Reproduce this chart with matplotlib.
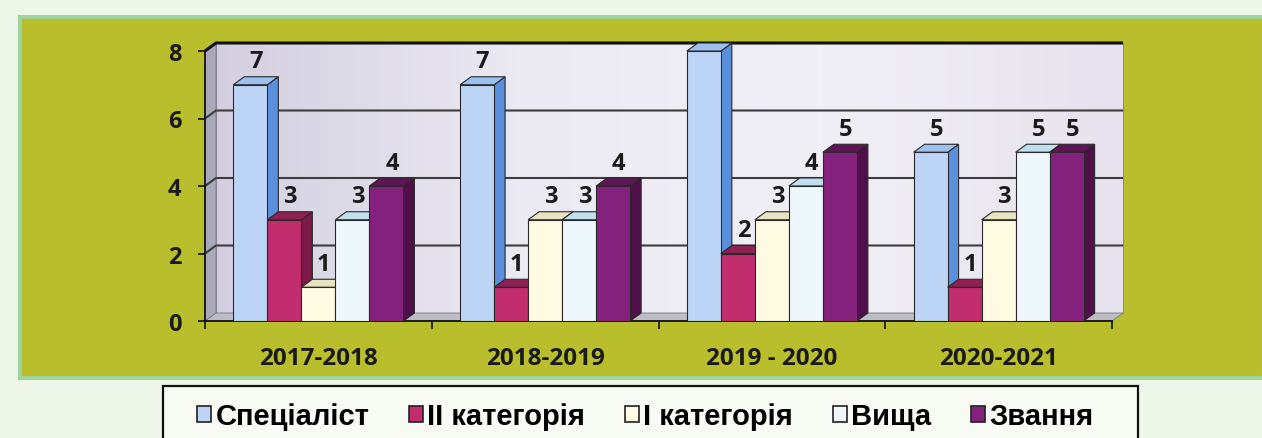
import matplotlib
matplotlib.use('Agg')
import matplotlib.pyplot as plt
import matplotlib.patches as patches
from matplotlib.colors import LinearSegmentedColormap
import numpy as np

# data
periods = ['2017-2018', '2018-2019', '2019 - 2020', '2020-2021']
series_names = ['Спеціаліст', 'II категорія', 'I категорія', 'Вища', 'Звання']
specialist = [7, 7, 8, 5]
category_2 = [3, 1, 2, 1]
category_1 = [1, 3, 3, 3]
vyshcha = [3, 3, 4, 5]
zvannia = [4, 4, 5, 5]
y_ticks = [0, 2, 4, 6, 8]

series = [specialist, category_2, category_1, vyshcha, zvannia]
# (front, side, top)
COLORS = [
    ('#bcd5f7', '#5b8fdb', '#9cc0f0'),
    ('#c22d6e', '#7d1a47', '#8f2052'),
    ('#fffbe3', '#dcd6ae', '#e8e3c0'),
    ('#eef7fc', '#c2dfec', '#bfe0ec'),
    ('#84217c', '#4f1049', '#5e1457'),
]
OLIVE = '#b9be2d'
BG = '#eef7ea'
TICK_FONT = dict(family='Open Sans', weight='bold', size=17, color='#1a1a1a')
CAT_FONT = dict(family='Open Sans', weight='bold', size=17.5, color='#1a1a1a')
VALUE_FONT = dict(family='Open Sans', weight='bold', size=17, color='#1a1a1a')

W, H = 1262, 439


def fx(x):
    return x / W


def fy(y):
    return 1 - y / H


fig = plt.figure(figsize=(W / 100, H / 100), dpi=100)
fig.patch.set_facecolor(BG)

# olive panel and legend box
fig.patches.append(patches.Rectangle((fx(20), fy(379)), (W - 18) / W, (379 - 18) / H,
                                     transform=fig.transFigure, fc=OLIVE,
                                     ec='#9fd49a', lw=3, zorder=-10))
fig.patches.append(patches.Rectangle((fx(163), fy(470)), (1138 - 163) / W, (470 - 387) / H,
                                     transform=fig.transFigure, fc='#f8fbf3',
                                     ec='#111111', lw=1.6, zorder=-10))

ax = fig.add_axes([fx(205), fy(322), (1112 - 205) / W, (322 - 52) / H])
ax.patch.set_visible(False)

n_groups = len(periods)
n_series = len(series)
bw = 0.15
dx = 11 / 227
dy = 8 / 33.75
x0, x1 = -0.5, n_groups - 0.5
ymax = y_ticks[-1]

# back wall
wall_cmap = LinearSegmentedColormap.from_list(
    'wall', ['#d3cfe0', '#ebe9f2', '#f1eff6', '#e6e3ee'])
grad = np.linspace(0, 1, 256).reshape(1, -1)
ax.imshow(grad, cmap=wall_cmap, extent=[x0 + dx, x1 + dx, dy, ymax + dy],
          aspect='auto', zorder=0.5, clip_on=False)
ax.add_patch(patches.Rectangle((x0 + dx, dy), x1 - x0, ymax, fill=False,
                               ec='#8a8a9a', lw=0.8, zorder=0.6, clip_on=False))
# left wall
ax.add_patch(patches.Polygon([(x0, 0), (x0 + dx, dy), (x0 + dx, ymax + dy), (x0, ymax)],
                             closed=True, fc='#a9a9ba', ec='#808090', lw=0.6,
                             zorder=0.7, clip_on=False))
# gridlines on the walls
for v in y_ticks[1:]:
    lw = 2.2 if v == ymax else 1.5
    col = '#111111' if v == ymax else '#3c3c3c'
    ax.plot([x0, x0 + dx, x1 + dx], [v, v + dy, v + dy], color=col, lw=lw,
            zorder=0.8, clip_on=False, solid_capstyle='butt')
# floor
ax.add_patch(patches.Polygon([(x0, 0), (x1, 0), (x1 + dx, dy), (x0 + dx, dy)],
                             closed=True, fc='#bdbdc6', ec='#7a7a84', lw=0.6,
                             zorder=1, clip_on=False))

xc = np.arange(n_groups)
for i, (vals, (front, side, top)) in enumerate(zip(series, COLORS)):
    xs = xc + (i - (n_series - 1) / 2) * bw
    for x, v in zip(xs, vals):
        r = x + bw / 2
        l = x - bw / 2
        ax.add_patch(patches.Polygon([(r, 0), (r + dx, dy), (r + dx, v + dy), (r, v)],
                                     closed=True, fc=side, ec='#2a2a2a', lw=0.8,
                                     zorder=3 + 2 * i, clip_on=False))
        ax.add_patch(patches.Polygon([(l, v), (r, v), (r + dx, v + dy), (l + dx, v + dy)],
                                     closed=True, fc=top, ec='#2a2a2a', lw=0.8,
                                     zorder=3 + 2 * i, clip_on=False))
        ax.annotate(str(v), (x + dx / 2, v + dy), xytext=(0, 2.5),
                    textcoords='offset points', ha='center', va='bottom',
                    zorder=20, **VALUE_FONT)
    ax.bar(xs, vals, width=bw, color=front, edgecolor='#2a2a2a', lw=0.8,
           zorder=4 + 2 * i, label=series_names[i])

ax.set_xlim(x0, x1)
ax.set_ylim(0, ymax)

for s in ('top', 'right'):
    ax.spines[s].set_visible(False)
for s in ('left', 'bottom'):
    ax.spines[s].set_color('#111111')
    ax.spines[s].set_linewidth(1.3)
    ax.spines[s].set_zorder(2)

ax.set_yticks(y_ticks)
ax.set_yticklabels([str(v) for v in y_ticks], fontdict=TICK_FONT)
ax.tick_params(axis='y', length=5, width=1.2, pad=12, color='#111111')

ax.set_xticks(xc)
ax.set_xticklabels(periods, fontdict=CAT_FONT)
ax.set_xticks(np.arange(n_groups + 1) - 0.5, minor=True)
ax.tick_params(axis='x', which='major', length=0, pad=18)
ax.tick_params(axis='x', which='minor', length=6, width=1.2, color='#111111')

handles = [patches.Patch(fc=c[0], ec='#222222', lw=1.2) for c in COLORS]
fig.legend(handles, series_names, loc='center left',
           bbox_to_anchor=(fx(197), fy(417)), ncol=5, frameon=False,
           prop={'family': 'Liberation Sans', 'weight': 'bold', 'size': 21},
           handlelength=0.48, handleheight=0.48, handletextpad=0.15,
           columnspacing=1.36, borderpad=0, borderaxespad=0)

fig.savefig('out.png', dpi=100, facecolor=fig.get_facecolor())
plt.close(fig)
